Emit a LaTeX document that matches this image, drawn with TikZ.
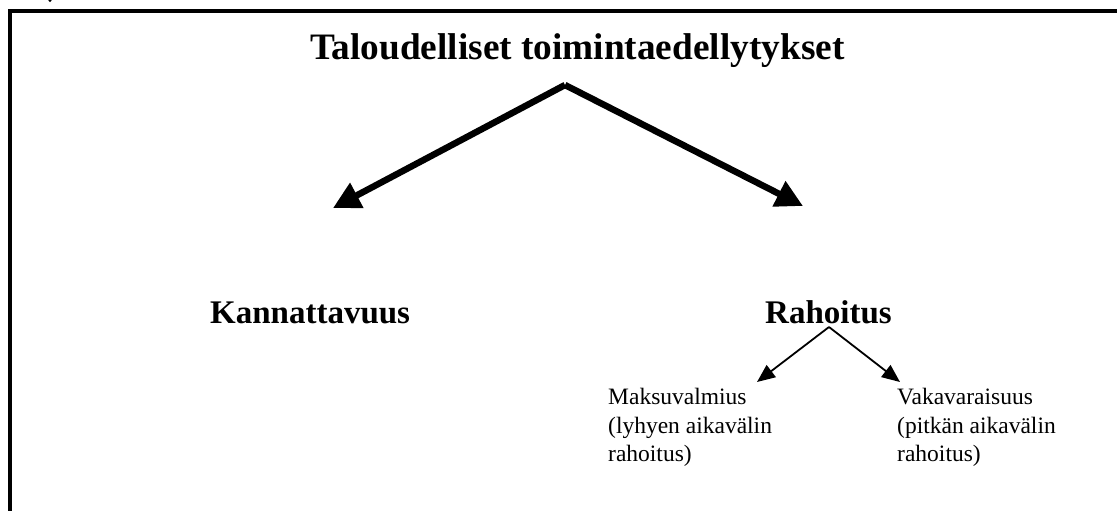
\documentclass[tikz,border=0pt]{standalone}
\usepackage{fontspec}
\setmainfont{Liberation Serif}
\usetikzlibrary{arrows.meta}
\tikzset{
  frame/.style={line width=4pt, line cap=butt},
  bigarrow/.style={line width=6.5pt, -{Triangle[length=27pt, width=27pt]}},
  smallarrow/.style={line width=1.8pt, -{Triangle[length=18pt, width=15pt]}},
  title/.style={inner sep=0pt, anchor=base west, font=\fontsize{37.3pt}{40pt}\selectfont\bfseries},
  heading/.style={inner sep=0pt, anchor=base west, font=\fontsize{33pt}{36pt}\selectfont\bfseries},
  small/.style={inner sep=0pt, anchor=base west, align=left, font=\fontsize{23.5pt}{28.3pt}\selectfont}
}
\begin{document}
\begin{tikzpicture}[x=1pt, y=-1pt]
  \useasboundingbox (0,0) rectangle (1117,511);
  \fill[white] (0,0) rectangle (1117,511);
  % frame (cropped on right and bottom)
  \draw[frame] (10,520) -- (10,11.5) -- (1125,11.5);
  \fill (50,0.5) circle (1.6pt);
  % texts
  \node[title] (t) at (310,60) {Taloudelliset toimintaedellytykset};
  \node[heading] (k) at (210,323) {Kannattavuus};
  \node[heading] (r) at (765,323) {Rahoitus};
  \node[small] (m) at (608,461.5) {Maksuvalmius\\(lyhyen aikavälin\\rahoitus)};
  \node[small] (v) at (897,461.5) {Vakavaraisuus\\(pitkän aikavälin\\rahoitus)};
  % connectors
  \coordinate (apex) at (565,85);
  \coordinate (ltip) at (333,208);
  \coordinate (rtip) at (803,206);
  \draw[bigarrow] (apex) -- (ltip);
  \draw[bigarrow] (apex) -- (rtip);
  \coordinate (rapex) at (829,327);
  \coordinate (mtip) at (757,382);
  \coordinate (vtip) at (900,382);
  \draw[smallarrow] (rapex) -- (mtip);
  \draw[smallarrow] (rapex) -- (vtip);
\end{tikzpicture}
\end{document}
